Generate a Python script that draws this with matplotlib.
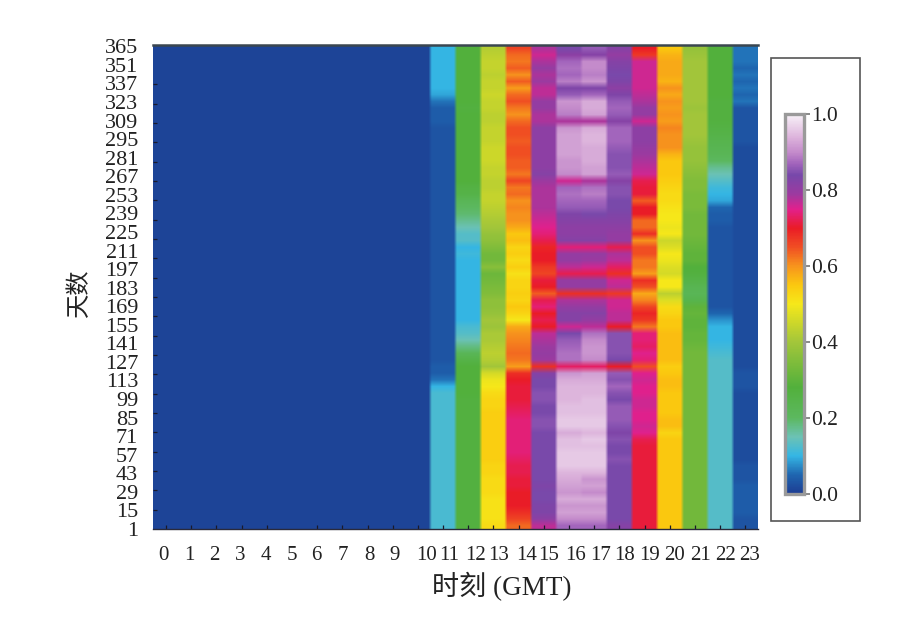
import numpy as np
import matplotlib
matplotlib.use("Agg")
import matplotlib.pyplot as plt
from matplotlib.colors import LinearSegmentedColormap
from matplotlib.patches import Rectangle

fuente = ["Liberation Serif", "Noto Sans CJK SC"]
plt.rcParams["font.family"] = fuente

# Etiquetas de los ejes
horas = list(range(24))
dias_etiquetas = list(range(1, 366, 14))
ticks_barra = [0.0, 0.2, 0.4, 0.6, 0.8, 1.0]

# Horas 0-9: noche, casi constante
noche = [0.01] * 10

# Valores, de dia 365 (arriba) a dia 1 (abajo), bloques de 5 dias
# columnas: hora 10, 11, ... 23
valores = [
    [.01,.10,.28,.42,.66,.78,.84,.86,.82,.70,.55,.38,.28,.06],
    [.01,.10,.28,.43,.63,.76,.81,.82,.80,.67,.57,.39,.28,.06],
    [.01,.10,.28,.44,.62,.78,.87,.90,.82,.76,.58,.40,.28,.06],
    [.01,.10,.28,.44,.64,.80,.88,.90,.83,.76,.58,.40,.28,.05],
    [.01,.10,.28,.43,.60,.78,.87,.89,.84,.76,.58,.40,.28,.06],
    [.01,.10,.28,.44,.64,.79,.89,.91,.83,.76,.57,.40,.28,.05],
    [.01,.10,.28,.44,.59,.77,.83,.83,.81,.76,.60,.40,.28,.06],
    [.01,.09,.28,.45,.63,.77,.86,.87,.83,.77,.58,.40,.28,.05],
    [.01,.06,.28,.44,.65,.80,.91,.93,.86,.78,.60,.40,.27,.06],
    [.01,.04,.27,.44,.62,.80,.90,.93,.87,.80,.59,.39,.27,.03],
    [.01,.04,.28,.43,.60,.78,.89,.92,.86,.80,.60,.40,.27,.03],
    [.01,.04,.28,.43,.63,.78,.78,.78,.82,.76,.59,.40,.27,.03],
    [.01,.03,.28,.44,.65,.81,.91,.93,.87,.81,.61,.40,.26,.03],
    [.01,.03,.28,.44,.65,.81,.92,.94,.87,.81,.60,.40,.25,.03],
    [.01,.03,.28,.44,.64,.81,.92,.94,.87,.81,.60,.39,.24,.03],
    [.01,.03,.28,.45,.65,.81,.92,.93,.86,.80,.60,.38,.23,.02],
    [.01,.03,.28,.45,.65,.81,.92,.93,.85,.79,.57,.38,.22,.02],
    [.01,.03,.28,.45,.64,.81,.91,.93,.85,.78,.55,.38,.20,.02],
    [.01,.03,.28,.44,.64,.81,.91,.92,.85,.77,.55,.37,.17,.02],
    [.01,.03,.28,.44,.62,.82,.90,.92,.86,.76,.55,.36,.15,.02],
    [.01,.03,.28,.43,.66,.79,.76,.78,.82,.72,.54,.35,.13,.02],
    [.01,.03,.26,.43,.62,.78,.87,.88,.85,.71,.53,.35,.11,.02],
    [.01,.03,.25,.44,.63,.78,.88,.89,.85,.71,.52,.34,.10,.02],
    [.01,.03,.22,.44,.60,.78,.87,.87,.84,.64,.52,.34,.09,.02],
    [.01,.03,.20,.43,.61,.78,.86,.86,.84,.70,.51,.34,.05,.02],
    [.01,.03,.19,.42,.60,.77,.83,.84,.83,.70,.50,.33,.04,.02],
    [.01,.03,.17,.41,.60,.76,.82,.82,.82,.63,.50,.33,.04,.02],
    [.01,.03,.15,.40,.58,.75,.81,.81,.81,.63,.49,.33,.03,.02],
    [.01,.03,.13,.38,.55,.74,.81,.81,.80,.68,.50,.33,.03,.02],
    [.01,.03,.13,.37,.56,.72,.82,.82,.80,.60,.45,.32,.03,.02],
    [.01,.03,.10,.35,.53,.69,.74,.74,.72,.65,.47,.31,.03,.02],
    [.01,.03,.11,.33,.54,.70,.80,.80,.78,.65,.50,.30,.03,.02],
    [.01,.03,.10,.33,.52,.70,.80,.79,.77,.62,.49,.30,.03,.02],
    [.01,.03,.10,.36,.54,.67,.77,.76,.73,.62,.47,.28,.03,.02],
    [.01,.03,.10,.32,.51,.66,.72,.72,.68,.59,.46,.27,.03,.02],
    [.01,.03,.10,.33,.53,.71,.80,.80,.76,.68,.50,.25,.03,.02],
    [.01,.03,.10,.34,.53,.70,.80,.80,.77,.65,.50,.23,.03,.02],
    [.01,.03,.10,.35,.54,.64,.68,.68,.67,.58,.43,.22,.03,.02],
    [.01,.03,.10,.37,.53,.72,.78,.78,.76,.61,.47,.24,.03,.02],
    [.01,.03,.10,.37,.55,.74,.80,.80,.76,.66,.52,.30,.03,.02],
    [.01,.03,.10,.38,.53,.70,.82,.82,.77,.69,.53,.31,.05,.02],
    [.01,.03,.10,.40,.50,.72,.82,.80,.77,.67,.55,.30,.08,.02],
    [.01,.03,.12,.39,.58,.70,.76,.77,.70,.62,.55,.30,.10,.02],
    [.01,.03,.13,.41,.60,.77,.84,.88,.85,.74,.56,.31,.10,.02],
    [.01,.03,.15,.41,.61,.78,.86,.90,.85,.74,.56,.31,.10,.02],
    [.01,.03,.18,.42,.62,.79,.87,.91,.85,.73,.56,.32,.11,.02],
    [.01,.03,.22,.43,.63,.80,.88,.91,.85,.75,.56,.33,.12,.02],
    [.01,.03,.25,.42,.62,.79,.88,.90,.84,.74,.56,.33,.13,.02],
    [.01,.04,.28,.40,.59,.68,.73,.73,.70,.65,.54,.33,.13,.02],
    [.01,.04,.28,.46,.68,.82,.91,.92,.86,.75,.55,.33,.13,.03],
    [.01,.06,.28,.49,.70,.84,.93,.93,.85,.76,.56,.33,.13,.03],
    [.01,.10,.28,.50,.71,.84,.94,.94,.87,.75,.56,.33,.13,.03],
    [.01,.12,.28,.52,.71,.85,.94,.94,.85,.75,.55,.33,.13,.02],
    [.01,.12,.27,.53,.71,.85,.94,.95,.84,.76,.55,.33,.13,.02],
    [.01,.12,.27,.53,.72,.84,.95,.95,.86,.76,.55,.33,.13,.02],
    [.01,.12,.27,.54,.73,.84,.95,.95,.86,.75,.55,.33,.13,.02],
    [.01,.12,.27,.54,.74,.85,.96,.96,.86,.75,.56,.33,.13,.02],
    [.01,.12,.27,.54,.74,.85,.96,.96,.85,.76,.56,.33,.13,.02],
    [.01,.12,.27,.54,.74,.84,.93,.94,.83,.75,.53,.33,.13,.02],
    [.01,.12,.27,.54,.74,.84,.95,.96,.85,.72,.55,.33,.13,.02],
    [.01,.12,.27,.54,.74,.84,.95,.95,.84,.71,.55,.33,.13,.02],
    [.01,.12,.27,.54,.74,.84,.96,.96,.84,.71,.55,.33,.13,.02],
    [.01,.12,.27,.54,.73,.84,.96,.96,.85,.71,.55,.33,.13,.02],
    [.01,.12,.27,.53,.72,.84,.96,.96,.84,.71,.55,.33,.13,.03],
    [.01,.12,.27,.53,.72,.84,.94,.94,.84,.71,.55,.33,.13,.03],
    [.01,.12,.27,.52,.71,.84,.93,.91,.84,.71,.55,.33,.13,.03],
    [.01,.12,.27,.52,.71,.83,.92,.92,.84,.71,.55,.33,.13,.04],
    [.01,.12,.27,.52,.70,.84,.91,.90,.84,.71,.55,.33,.13,.04],
    [.01,.12,.27,.51,.70,.84,.93,.93,.84,.71,.55,.33,.13,.04],
    [.01,.12,.27,.51,.70,.83,.91,.91,.84,.71,.55,.33,.13,.04],
    [.01,.12,.27,.51,.68,.83,.92,.92,.84,.71,.55,.33,.13,.04],
    [.01,.12,.27,.51,.66,.81,.90,.90,.84,.71,.55,.33,.13,.03],
    [.01,.12,.27,.52,.63,.77,.87,.87,.82,.71,.55,.33,.13,.03],
]

colores = [
    (0.00, "#1d3c92"), (0.05, "#1f66b0"), (0.10, "#35b6e4"), (0.15, "#6cc2b4"),
    (0.20, "#5cb85f"), (0.28, "#52b03c"), (0.40, "#a3c63a"), (0.50, "#f6e81a"),
    (0.55, "#fbc80f"), (0.60, "#f7941d"), (0.65, "#f04e23"), (0.70, "#ea1c26"),
    (0.75, "#e2208c"), (0.79, "#9c3aa0"), (0.84, "#7748aa"), (0.87, "#a264bc"),
    (0.90, "#c48bcb"), (0.94, "#ddb4dc"), (1.00, "#f8f2f8"),
]
mapa = LinearSegmentedColormap.from_list("mapa", colores, N=512)

matriz = np.array([noche + fila for fila in valores])
# se repite en x para que el suavizado no borre las columnas
matriz_fina = np.repeat(matriz, 8, axis=1)

W, H = 901, 621
fig = plt.figure(figsize=(W / 100, H / 100), dpi=100)


def caja(x0, y0, x1, y1):
    return [x0 / W, 1 - y1 / H, (x1 - x0) / W, (y1 - y0) / H]


ax = fig.add_axes(caja(153.4, 45, 758, 529))
im = ax.imshow(matriz_fina, cmap=mapa, vmin=0, vmax=1, aspect="auto",
               extent=(-0.5, 23.5, 1, 366), interpolation="bilinear",
               interpolation_stage="rgba")
ax.set_xlim(-0.5, 23.5)
ax.set_ylim(1, 366)

# las etiquetas de la figura no coinciden con las marcas
pos_x = [-0.1, 0.91, 1.92, 2.95, 3.97, 5.0, 5.97, 7.04, 8.07, 9.06, 10.33, 11.25,
         12.3, 13.2, 14.3, 15.2, 16.25, 17.27, 18.2, 19.2, 20.2, 21.2, 22.2, 23.15]
ax.set_xticks(pos_x)
ax.set_xticklabels([str(h) for h in horas], fontsize=15, color="#222222")
ax.set_xticks(horas, minor=True)
ax.set_yticks(dias_etiquetas)
ax.set_yticklabels([str(d) for d in dias_etiquetas], fontsize=16, color="#222222")
ax.set_yticks(np.linspace(1, 351, 25), minor=True)
ax.tick_params(axis="both", which="major", length=0)
ax.tick_params(axis="x", which="major", pad=12)
ax.tick_params(axis="y", which="major", pad=11)
ax.tick_params(axis="both", which="minor", direction="in", length=3, width=0.9, color="#1a1a2a")
for lado in ["left", "right"]:
    ax.spines[lado].set_visible(False)
ax.spines["top"].set_color("#3a4650")
ax.spines["top"].set_linewidth(1.8)
ax.spines["bottom"].set_color("#2a2a3a")
ax.spines["bottom"].set_linewidth(1.0)

fig.text(502 / W, 1 - 587 / H, "时刻 (GMT)", fontsize=19.5, color="#222222",
         ha="center", va="center", family=fuente)
fig.text(80 / W, 1 - 293 / H, "天数", fontsize=17.5, color="#222222", rotation=90,
         ha="center", va="center", family=fuente)

# recuadro de la barra de color
fig.add_artist(Rectangle((771 / W, 1 - 521 / H), 89 / W, 463 / H, transform=fig.transFigure,
                         fill=False, edgecolor="#555555", linewidth=1.2))
cax = fig.add_axes(caja(785, 114, 804, 494))
barra = fig.colorbar(im, cax=cax, ticks=ticks_barra)
barra.ax.set_yticklabels([f"{t:.1f}" for t in ticks_barra], fontsize=15.5, color="#222222")
barra.ax.tick_params(length=4, width=1.4, color="#888888", pad=1)
barra.outline.set_edgecolor("#9a9a9a")
barra.outline.set_linewidth(2.4)

fig.savefig("out.png", dpi=100)
